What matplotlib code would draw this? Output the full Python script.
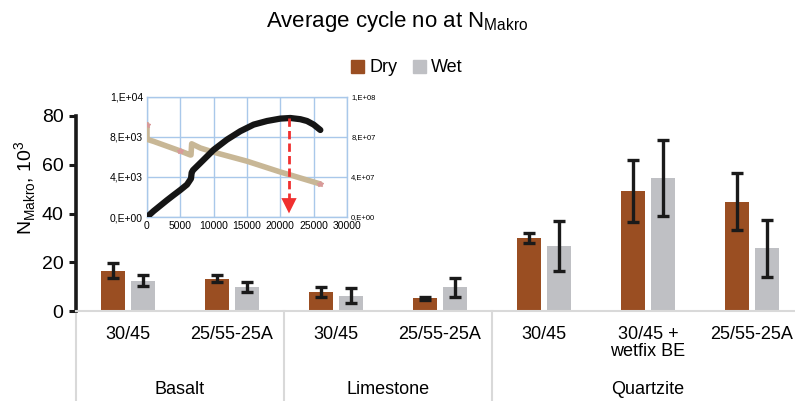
import matplotlib
matplotlib.use("Agg")
import matplotlib.pyplot as plt
from matplotlib.patches import Patch

plt.rcParams['font.family'] = ['Liberation Sans', 'DejaVu Sans']

# ---- main bar chart data ----
sub_labels = ["30/45", "25/55-25A", "30/45", "25/55-25A", "30/45", "30/45 +\nwetfix BE", "25/55-25A"]
group_labels = ["Basalt", "Limestone", "Quartzite"]
group_centers = [0.5, 2.5, 5.0]
dry = [16.5, 13.2, 7.9, 5.3, 29.9, 49.2, 44.9]
dry_err = [3.0, 1.4, 2.1, 0.6, 1.9, 12.8, 11.8]
wet = [12.5, 9.9, 6.3, 9.8, 26.6, 54.5, 25.8]
wet_err = [2.4, 2.1, 3.1, 3.9, 10.3, 15.5, 11.7]

# ---- inset data ----
blk_x = [0, 1000, 2000, 3000, 4000, 5000, 6000, 6600, 6700, 6900, 8000, 10000, 12000, 14000,
         16000, 18000, 20000, 21500, 23000, 24000, 25000, 26000]
blk_y = [0, 500, 950, 1400, 1830, 2250, 2700, 3200, 3700, 3900, 4500, 5600, 6450, 7150,
         7700, 8000, 8200, 8250, 8150, 8000, 7700, 7250]
tan_x = [0, 0, 150, 1000, 3000, 5000, 6500, 6600, 6700, 8000, 10000, 15000, 20000, 26000]
tan_y = [77e6, 65.5e6, 64.5e6, 63e6, 59e6, 55e6, 51.7e6, 51.7e6, 61e6, 57.5e6, 54e6, 46.5e6, 37.5e6, 27.5e6]
arrow_x = 21300
arrow_top = 8250
arrow_bottom = 300

dry_color = "#9A4E22"
wet_color = "#BFC0C4"

fig = plt.figure(figsize=(7.95, 4.01), dpi=100)
ax = fig.add_axes([76 / 795, 1 - 311 / 401, 728 / 795, 195 / 401])

idx = list(range(len(sub_labels)))
bw = 0.225
off = 0.143
ax.bar([i - off for i in idx], dry, width=bw, color=dry_color, zorder=2)
ax.bar([i + off for i in idx], wet, width=bw, color=wet_color, zorder=2)
ekw = dict(fmt='none', ecolor='#1a1a1a', elinewidth=2.4, capsize=4.6, capthick=2.4, zorder=3)
ax.errorbar([i - off for i in idx], dry, yerr=dry_err, **ekw)
ax.errorbar([i + off for i in idx], wet, yerr=wet_err, **ekw)

ax.set_xlim(-0.5, 6.5)
ax.set_ylim(0, 80)
ax.set_yticks([0, 20, 40, 60, 80])
ax.tick_params(axis='y', labelsize=14, width=2.2, length=5, color='#1a1a1a', pad=4)
ax.spines['left'].set_linewidth(2.6)
ax.spines['left'].set_color('#1a1a1a')
ax.spines['top'].set_visible(False)
ax.spines['right'].set_visible(False)
ax.spines['bottom'].set_color('#D9D9D9')
ax.spines['bottom'].set_linewidth(1.5)
ax.set_xticks(idx)
ax.set_xticklabels(sub_labels, fontsize=13, linespacing=1.0, va='top')
ax.tick_params(axis='x', length=0, pad=11)
ax.set_ylabel(r"N$_{\mathregular{Makro}}$, 10$^{\mathregular{3}}$", fontsize=14)
ax.yaxis.set_label_coords(-0.052, 0.63)

trans = ax.get_xaxis_transform()
for xb in [-0.5, 1.5, 3.5]:
    ax.plot([xb, xb], [0, -0.48], transform=trans, color='#D9D9D9', lw=1.5, clip_on=False)
for gx, gl in zip(group_centers, group_labels):
    ax.text(gx, -0.405, gl, transform=trans, ha='center', va='center', fontsize=13)

fig.text(0.5, 1 - 22 / 401, r"Average cycle no at N$_{\mathregular{Makro}}$", ha='center', va='center', fontsize=16)
handles = [Patch(color=dry_color, label='Dry'), Patch(color=wet_color, label='Wet')]
fig.legend(handles=handles, loc='center', bbox_to_anchor=(407 / 795, 1 - 68 / 401), ncol=2, frameon=False,
           fontsize=13, handlelength=0.7, handleheight=0.7, handletextpad=0.3, columnspacing=0.9)

# ---- inset ----
ia = fig.add_axes([147 / 795, 1 - 217 / 401, 200 / 795, 120 / 401])
ia.set_facecolor('white')
grid_c = '#A9C8EA'
ia.set_xlim(0, 30000)
ia.set_ylim(0, 10000)
ia.set_xticks([0, 5000, 10000, 15000, 20000, 25000, 30000])
ia.set_yticks([0, 10000 / 3, 20000 / 3, 10000])
ia.set_yticklabels(['0,E+00', '4,E+03', '8,E+03', '1,E+04'])
ia.grid(True, color=grid_c, lw=1.0)
for s in ia.spines.values():
    s.set_color(grid_c)
    s.set_linewidth(1.0)
ia.tick_params(labelsize=7.5, length=0, pad=3)
ia.set_axisbelow(True)
ib = ia.twinx()
ib.set_ylim(0, 1e8)
ib.set_yticks([0, 1e8 / 3, 2e8 / 3, 1e8])
ib.set_yticklabels(['0,E+00', '4,E+07', '8,E+07', '1,E+08'])
ib.tick_params(labelsize=5.5, length=0, pad=3)
for s in ib.spines.values():
    s.set_visible(False)
ib.plot(tan_x, tan_y, color='#C8B796', lw=4.0, solid_capstyle='round', zorder=2)
ib.plot([tan_x[0], tan_x[5], tan_x[-1]], [tan_y[0], tan_y[5], tan_y[-1]], ls='none', marker='*', ms=4,
        color='#D99A9A', zorder=3)
ib.plot(blk_x, [v * 1e4 for v in blk_y], color='#151515', lw=4.5, solid_capstyle='round', zorder=4)
ib.plot([arrow_x, arrow_x], [arrow_top * 1e4, 1500 * 1e4], color='#F03030', lw=2, ls=(0, (3, 1.5)), zorder=5)
ib.annotate('', xy=(arrow_x, arrow_bottom * 1e4), xytext=(arrow_x, 1650 * 1e4),
            arrowprops=dict(arrowstyle='-|>,head_length=1.1,head_width=0.55', color='#F03030', lw=0,
                            shrinkA=0, shrinkB=0), zorder=5)

fig.savefig('out.png', dpi=100)
